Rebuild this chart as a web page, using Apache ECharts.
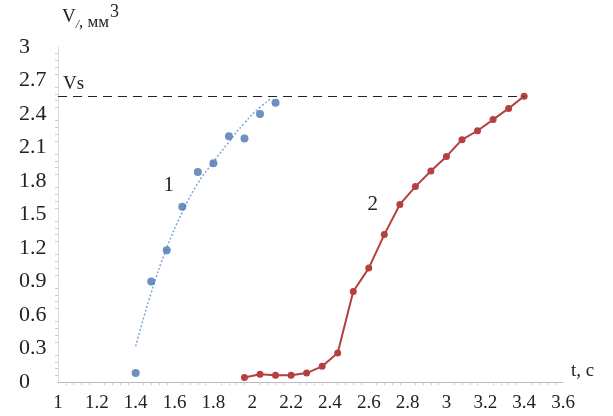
<!DOCTYPE html>
<html>
<head>
<meta charset="utf-8">
<script src="https://cdn.jsdelivr.net/npm/echarts@6/dist/echarts.min.js"></script>
<style>
  html, body { margin: 0; padding: 0; background: #fff; }
  #chart { width: 613px; height: 416px; }
</style>
</head>
<body>
<div id="chart"></div>
<script>
// series 1 - measured points (blue)
const t1 = [1.40, 1.48, 1.56, 1.64, 1.72, 1.80, 1.88, 1.96, 2.04, 2.12]
const v1 = [0.08, 0.90, 1.18, 1.57, 1.88, 1.96, 2.20, 2.18, 2.40, 2.50]
// series 1 - trend line (dotted)
const trendT = [1.40, 1.48, 1.56, 1.64, 1.72, 1.80, 1.88, 1.96, 2.04, 2.10]
const trendV = [0.32, 0.80, 1.20, 1.52, 1.78, 1.97, 2.15, 2.32, 2.46, 2.54]
// series 2 (red)
const t2 = [1.96, 2.04, 2.12, 2.20, 2.28, 2.36, 2.44, 2.52, 2.60, 2.68,
  2.76, 2.84, 2.92, 3.00, 3.08, 3.16, 3.24, 3.32, 3.40]
const v2 = [0.04, 0.07, 0.06, 0.06, 0.08, 0.14, 0.26, 0.81, 1.02, 1.32,
  1.59, 1.75, 1.89, 2.02, 2.17, 2.25, 2.35, 2.45, 2.56]
// saturation level Vs
const vs = 2.56
const vsRange = [1, 3.4]

const chart = echarts.init(document.getElementById('chart'))
const times = 'Times New Roman, Liberation Serif, Tinos, DejaVu Serif, serif'

const option = {
  animation: false,
  backgroundColor: '#fff',
  textStyle: { fontFamily: times },
  grid: { left: 58, right: 50, top: 47, bottom: 34 },
  xAxis: {
    type: 'value',
    min: 1,
    max: 3.6,
    interval: 0.2,
    name: 't, c',
    nameLocation: 'end',
    nameGap: 8,
    nameTextStyle: { fontFamily: times, fontSize: 19, color: '#222', verticalAlign: 'bottom', padding: [0, 0, 1, 0] },
    axisLine: { lineStyle: { color: '#bbb', width: 1 } },
    axisTick: { show: false },
    minorTick: { show: true, splitNumber: 5, length: 3, lineStyle: { color: '#ccc' } },
    splitLine: { show: false },
    axisLabel: { fontFamily: times, fontSize: 19, color: '#222', margin: 12 }
  },
  yAxis: {
    type: 'value',
    min: 0,
    max: 3,
    interval: 0.3,
    name: '{v|V}{l|/}{t|, мм}{p|3}',
    nameLocation: 'end',
    nameGap: 16,
    nameTextStyle: {
      align: 'left',
      padding: [0, 0, 0, 4],
      rich: {
        v: { fontFamily: times, fontSize: 19, color: '#222' },
        l: { fontFamily: times, fontSize: 12, color: '#222', fontStyle: 'italic', verticalAlign: 'bottom', padding: [6, 0, 0, 0] },
        t: { fontFamily: times, fontSize: 17, color: '#222', verticalAlign: 'bottom', padding: [3, 0, 0, 0] },
        p: { fontFamily: times, fontSize: 18, color: '#222', verticalAlign: 'top', padding: [0, 0, 10, 1] }
      }
    },
    axisLine: { show: true, lineStyle: { color: '#ddd', width: 1 } },
    axisTick: { show: false },
    minorTick: { show: true, splitNumber: 5, length: 3, lineStyle: { color: '#ccc' } },
    splitLine: { show: false },
    axisLabel: {
      fontFamily: times, fontSize: 22, color: '#222', align: 'left', margin: 39,
      formatter: (v) => String(Math.round(v * 10) / 10)
    }
  },
  series: [
    {
      name: 'trend 1',
      type: 'line',
      data: trendT.map((t, i) => [t, trendV[i]]),
      smooth: true,
      showSymbol: false,
      lineStyle: { color: '#7ea6d6', width: 1.5, type: [2, 2] },
      z: 1
    },
    {
      name: '1',
      type: 'scatter',
      data: t1.map((t, i) => [t, v1[i]]),
      symbolSize: 8,
      itemStyle: { color: '#4a74b2' },
      z: 3,
      markPoint: {
        symbol: 'circle',
        symbolSize: 0,
        label: { show: true, formatter: '1', fontFamily: times, fontSize: 21, color: '#222' },
        data: [{ coord: [1.57, 1.76] }]
      }
    },
    {
      name: '2',
      type: 'line',
      data: t2.map((t, i) => [t, v2[i]]),
      symbol: 'circle',
      symbolSize: 7,
      lineStyle: { color: '#b5403f', width: 2 },
      itemStyle: { color: '#b5403f' },
      z: 3,
      markPoint: {
        symbol: 'circle',
        symbolSize: 0,
        label: { show: true, formatter: '2', fontFamily: times, fontSize: 21, color: '#222' },
        data: [{ coord: [2.62, 1.59] }]
      },
      markLine: {
        silent: true,
        symbol: 'none',
        lineStyle: { color: '#222', width: 1.2, type: [9, 6] },
        label: {
          show: true,
          position: 'insideStartTop',
          formatter: 'Vs',
          fontFamily: times,
          fontSize: 19,
          color: '#222',
          distance: [5, 3]
        },
        data: [[{ coord: [vsRange[0], vs] }, { coord: [vsRange[1], vs] }]]
      }
    }
  ]
}

chart.setOption(option)
</script>
</body>
</html>
